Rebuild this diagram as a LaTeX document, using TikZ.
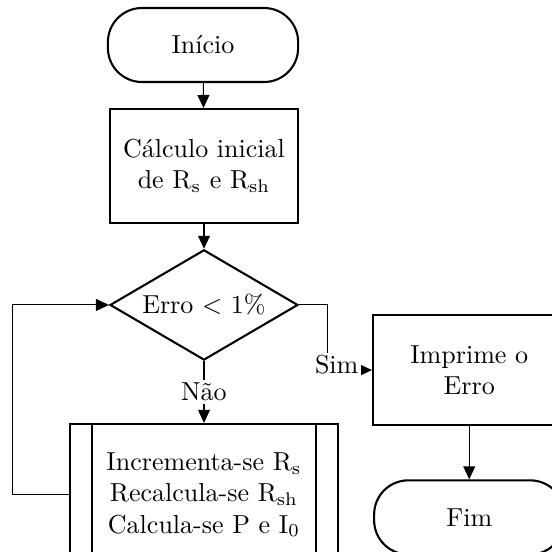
\documentclass[tikz,border=0pt]{standalone}
\usetikzlibrary{shapes.geometric,arrows.meta}
\tikzset{
  terminal/.style={rectangle, rounded corners=0.46cm, draw, thick, minimum width=2.57cm, minimum height=1cm},
  caixa/.style={rectangle, draw, thick, align=center},
  decisao/.style={diamond, draw, thick, aspect=2, inner sep=0pt, minimum width=2.54cm, minimum height=1.49cm},
  seta/.style={-{Triangle[length=5pt,width=4.6pt]}},
  rotulo/.style={fill=white, inner sep=1pt}
}
\begin{document}
\begin{tikzpicture}
  \useasboundingbox (0,0) rectangle (7.458,-7.458);
  \clip (0,0) rectangle (7.458,-7.458);
  % blocos
  \node[terminal] (inicio) at (2.743,-0.608) {Início};
  \node[caixa, minimum width=2.55cm, minimum height=1.54cm] (calc) at (2.756,-2.243)
    {Cálculo inicial\\de R$_\mathrm{s}$ e R$_\mathrm{sh}$};
  \node[decisao] (erro) at (2.756,-4.12) {Erro $<$ 1\%};
  \node[caixa, minimum width=3.62cm, minimum height=1.92cm] (proc) at (2.756,-6.687)
    {Incrementa-se R$_\mathrm{s}$\\Recalcula-se R$_\mathrm{sh}$\\Calcula-se P e I$_0$};
  \draw[thick] ([xshift=0.31cm]proc.north west) -- ([xshift=0.31cm]proc.south west);
  \draw[thick] ([xshift=-0.31cm]proc.north east) -- ([xshift=-0.31cm]proc.south east);
  \node[caixa, minimum width=2.6cm, minimum height=1.49cm] (imprime) at (6.34,-5.0)
    {Imprime o\\Erro};
  \node[terminal] (fim) at (6.34,-6.99) {Fim};
  % ligacoes
  \draw[seta] (inicio) -- (calc);
  \draw[seta] (calc) -- (erro);
  \draw[seta] (erro.south) -- node[rotulo] {Não} (proc.north);
  \draw[seta] (erro.east) -- ++(0.39,0) |- node[rotulo, pos=0.6, yshift=2pt] {Sim} (imprime.west);
  \draw[seta] (proc.west) -- ++(-0.76,0) |- (erro.west);
  \draw[seta] (imprime) -- (fim);
\end{tikzpicture}
\end{document}
